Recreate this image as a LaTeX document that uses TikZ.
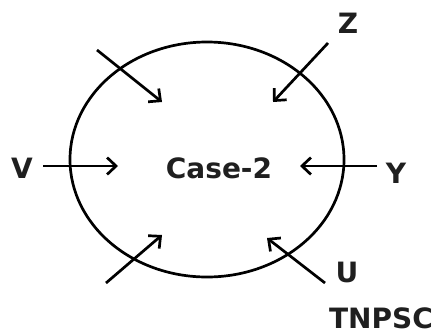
\documentclass[tikz,border=0pt]{standalone}
\usepackage{fontspec}
\setmainfont{DejaVu Sans}
\usetikzlibrary{arrows.meta}
\begin{document}
\begin{tikzpicture}[x=1pt,y=-1pt,
  lbl/.style={font=\fontsize{28}{30}\selectfont\bfseries, text=black!88, inner sep=0pt},
  arr/.style={line width=2.7pt, -{Straight Barb[length=9pt,width=17pt,line width=2.7pt]}}]
\useasboundingbox (0,0) rectangle (435,335);
\draw[line width=2.7pt] (207,159.5) ellipse [x radius=137, y radius=117.5];
\node[lbl] (case) at (219,168) {Case-2};
\node[lbl] (V) at (22,168) {V};
\node[lbl] (Y) at (396,173) {Y};
\node[lbl] (Z) at (348,23) {Z};
\node[lbl] (U) at (347,272) {U};
\node[lbl] (T) at (381,318) {TNPSC};
\coordinate (tl0) at (97,50);   \coordinate (tl1) at (162,102);
\coordinate (z0) at (328,43);   \coordinate (z1) at (273,102);
\coordinate (v0) at (43,166);   \coordinate (v1) at (118,166);
\coordinate (y0) at (377,166);  \coordinate (y1) at (300,166);
\coordinate (bl0) at (106,283); \coordinate (bl1) at (162,235);
\coordinate (u0) at (325,283);  \coordinate (u1) at (267,238);
\draw[arr] (tl0) -- (tl1);
\draw[arr] (z0) -- (z1);
\draw[arr] (v0) -- (v1);
\draw[arr] (y0) -- (y1);
\draw[arr] (bl0) -- (bl1);
\draw[arr] (u0) -- (u1);
\end{tikzpicture}
\end{document}
